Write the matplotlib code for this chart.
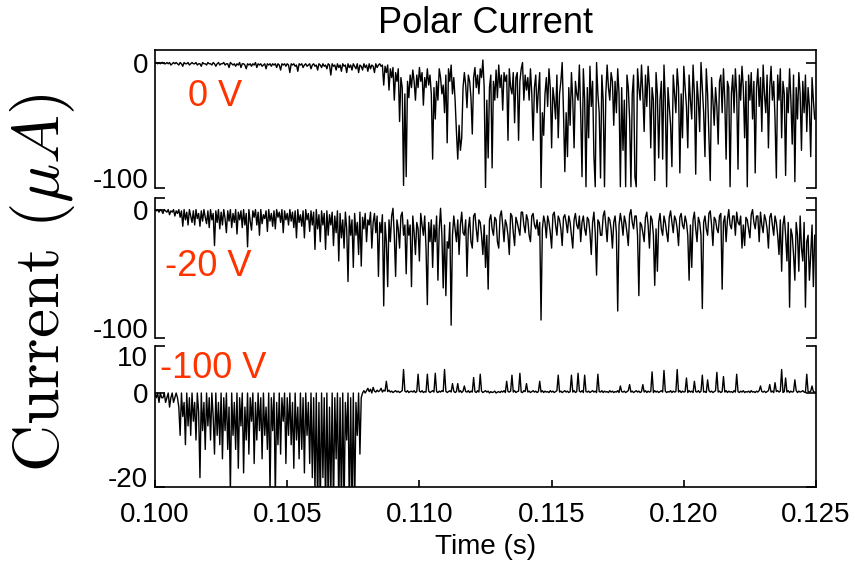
import numpy as np
from matplotlib import pyplot as plt

plt.rcParams['font.family'] = ['Liberation Sans', 'DejaVu Sans']
plt.rcParams['mathtext.fontset'] = 'cm'

# time axis: one sample every 0.05 ms from 0.100 s
t0 = 0.100
dt = 0.00005

# 0 V bias (uA)
cur_0v = [
    0, 0, -1, 0, -1, 0, 0, -1, -1, 0,
    -1, 0, -2, -1, 0, -1, 0, -1, -2, 0,
    -1, -3, 0, -1, -1, 0, -2, -1, 0, -1,
    -1, 0, -2, -1, -1, -3, 0, -1, -1, -2,
    0, -1, -1, -2, 0, -1, -3, -1, 0, -2,
    -1, -1, 0, -2, -1, -1, -4, 0, -1, -2,
    -1, -3, -1, -2, 0, -4, -1, -1, -2, -5,
    -1, -2, -1, -3, -1, -2, 0, -4, -1, -2,
    -1, -3, -2, -1, -5, -1, -2, -1, -3, -1,
    -2, -1, -4, -1, -2, -6, -1, -2, -1, -3,
    -1, -2, -8, -1, -2, -1, -3, -2, -7, -1,
    -2, -1, -4, -2, -1, -3, -2, -1, -5, -2,
    -1, -3, -2, -6, -1, -2, -4, -1, -3, -2,
    -5, -1, -2, -10, -1, -3, -2, -6, -1, -4,
    -2, -7, -1, -3, -2, -8, -1, -4, -2, -6,
    -1, -3, -5, -1, -8, -2, -3, -6, -1, -4,
    -2, -7, -1, -5, -2, -3, -8, -1, -4, -2,
    -1, -3, -2, -18, -3, -8, -2, -22, -5, -12,
    -4, -30, -8, -15, -5, -47, -12, -20, -98, -25,
    -91, -15, -28, -10, -20, -6, -15, -30, -10, -20,
    -4, -15, -8, -34, -12, -20, -5, -18, -10, -25,
    -77, -20, -45, -15, -30, -5, -12, -25, -18, -40,
    -10, -64, -5, -15, -2, -25, -12, -30, -55, -77,
    -50, -70, -60, -20, -8, -18, -36, -10, -15, -28,
    -57, -12, -4, -20, -10, -25, -5, -12, 2, -20,
    -100, -30, -76, -20, -10, -84, -15, -30, -6, -28,
    -2, -20, -10, -38, -8, -15, -10, -62, -5, -20,
    -25, -8, -48, -12, -8, -62, -15, -5, 0, -30,
    -10, -22, -12, -30, -5, -25, -62, -20, -10, -40,
    -22, -8, -100, -40, -58, -25, -12, -35, -5, -20,
    -68, -20, -30, -45, -10, -60, -25, -15, 0, -40,
    -87, -40, -75, -20, -50, -8, -30, -68, -15, -25,
    -30, -2, -40, -91, -5, -30, -99, -20, -60, -3,
    -35, -15, -75, -99, 0, -25, -40, -92, -10, -30,
    -99, -25, -2, -20, -30, -8, -15, -50, -15, -40,
    -5, -25, -99, -20, -70, -30, -99, -10, -20, -45,
    -99, -25, -10, -91, -99, -5, -20, -30, -2, -25,
    -55, -10, -35, -3, -20, -68, -20, -30, -94, -8,
    -25, -76, -30, -15, -77, -2, -30, -99, -20, -35,
    -50, -83, -10, -25, -40, -5, -20, -88, -25, -60,
    -3, -20, -35, -68, -10, -30, -45, -2, -25, -89,
    -15, -30, -55, 0, -20, -40, -75, -5, -25, -60,
    -94, -12, -30, -50, -20, -35, -65, -15, -10, -40,
    -5, -30, -77, -15, -20, -99, -25, -10, -40, -5,
    -25, -85, -10, -30, -3, -20, -60, -15, -99, -10,
    -30, -8, -45, -15, -88, -20, -5, -35, -12, -55,
    -2, -25, -40, -10, -68, -20, -3, -30, -15, -45,
    -92, -10, -30, -5, -60, -15, -25, -90, -20, -40,
    -5, -30, -65, -10, -95, -20, -45, -8, -25, -70,
    -15, -40, -10, -55, -20, -35, -75, -12, -30, -45,
]

# -20 V bias (uA)
cur_20v = [
    0, -1, 0, -2, 0, -1, -3, 0, -1, -2,
    0, -4, -1, -2, 0, -5, -1, -3, 0, -6,
    -1, -13, 0, -8, -2, -12, 0, -5, -10, -1,
    -12, 0, -7, -3, -13, -1, -9, 0, -6, -11,
    -1, -14, 0, -8, -3, -28, -1, -10, 0, -15,
    -2, -12, 0, -7, -18, -1, -9, 0, -14, -3,
    -10, 0, -19, -2, -8, -1, -14, 0, -12, -3,
    -29, 0, -9, -16, -1, -6, 0, -12, -2, -20,
    0, -11, -4, -7, -1, -17, 0, -9, -3, -13,
    -1, -15, 0, -6, -2, -10, 0, -18, -1, -8,
    -3, -12, 0, -9, -2, -14, -1, -22, 0, -10,
    -4, -13, -1, -22, 0, -8, -3, -17, -1, -12,
    -2, -31, 0, -15, -4, -25, -1, -12, -3, -31,
    -1, -20, -4, -12, -2, -28, -5, -18, -1, -40,
    -3, -22, -8, -30, -2, -15, -56, -5, -20, -8,
    -45, -3, -20, -10, -35, -2, -44, -6, -15, -3,
    -25, -8, -12, -2, -30, -10, -3, -18, -5, -52,
    -10, -18, -4, -75, -10, -25, -60, -8, -25, -5,
    1, -20, -52, -8, -15, -30, -5, -2, -20, -12,
    -50, -8, -20, -12, -60, -5, -18, -35, -10, -15,
    -40, -3, -12, -20, -5, -30, -74, -10, -25, -8,
    -45, -12, -25, -5, -55, -15, 1, -20, -61, -12,
    -67, -25, -30, -10, -90, -20, -5, -15, -25, -8,
    -35, -12, -2, -18, -20, -8, -52, -15, -6, -25,
    -30, -5, -3, -15, -25, -8, -10, -20, -35, -12,
    -45, -20, -62, -8, -4, -15, -20, -6, -8, -25,
    -30, -5, -1, -12, -25, -8, -12, -20, -35, -3,
    -5, -18, -28, -6, -10, -15, -20, -2, -2, -12,
    -18, -4, -8, -20, -25, -5, -3, -12, -15, -8,
    -20, -10, -86, -15, -5, -10, -22, -5, -10, -18,
    -30, -4, -2, -12, -20, -5, -8, -15, -28, -6,
    -4, -10, -18, -5, -10, -20, -30, -8, -3, -12,
    -15, -5, -25, -10, -5, -15, -20, -6, -8, -18,
    -35, -10, -2, -18, -51, -8, -10, -20, -20, -5,
    -1, -12, -25, -6, -8, -15, -30, -10, -5, -18,
    -79, -12, -3, -10, -20, -5, -10, -18, -28, -4,
    0, -10, -15, -5, -5, -20, -67, -10, -12, -18,
    -25, -6, -2, -12, -30, -5, -8, -20, -59, -15,
    -48, -10, -3, -15, -20, -5, -10, -18, -25, -6,
    -1, -10, -18, -5, -8, -15, -28, -6, -3, -12,
    -15, -5, -10, -20, -55, -12, -45, -8, -2, -15,
    -25, -6, -10, -20, -77, -10, -5, -15, -20, -3,
    -1, -12, -28, -6, -8, -15, -18, -5, -3, -62,
    -10, -5, -25, -8, 0, -12, -15, -5, -5, -20,
    -2, -10, -12, -5, -30, -12, -28, -6, -8, -15,
    -22, -4, 0, -10, -15, -5, -5, -25, -2, -12,
    -18, -4, -8, -15, -30, -6, -3, -12, -20, -5,
    -10, -20, -35, -8, -48, -12, -5, -20, -40, -10,
    -76, -15, -20, -35, -55, -10, -20, -48, -5, -30,
    -40, -10, -76, -25, -20, -55, -35, -12, -60, -20,
]

# -100 V bias (uA), values below -20 run off the panel
cur_100v = [
    0, -1, 0, -2, 0, -1, -1, 0, -2, -1,
    0, -3, -1, 0, -2, -1, 0, -1, -3, -9,
    0, -5, -2, -11, 0, -7, -1, -9, 0, -6,
    -2, -10, 0, -4, -18, 0, -8, -2, -12, 0,
    -7, -1, -10, 0, -5, -13, 0, -9, -2, -11,
    0, -14, -1, -8, 0, -12, -3, -21, 0, -9,
    -2, -12, 0, -16, -1, -7, 0, -17, -3, -10,
    0, -13, -1, -6, 0, -15, -2, -10, 0, -8,
    -1, -14, 0, -9, -3, -12, 0, -21, -1, -8,
    0, -22, -2, -11, 0, -13, -1, -6, 0, -15,
    -1, -9, 0, -11, -2, -16, 0, -10, -3, -14,
    0, -12, -1, -17, 0, -9, -2, -15, 0, -18,
    -1, -21, 0, -25, -2, -25, 0, -18, -1, -25,
    0, -25, -3, -22, 0, -25, -1, -14, 0, -25,
    -1, -25, 0, -25, -2, -10, 0, -25, -1, -25,
    0, -25, -2, -9, 0, -13, -1, 0, 0.5, 0,
    0.5, 1, 0.3, 0.8, 0, 1.2, 0.4, 0.2, 0.6, 0.3,
    0.5, 1, 0.2, 0.6, 0.4, 2.5, 0.3, 0.6, 0.2, 0.4,
    0.1, 0.3, 0.5, 0.2, 0.4, 0.1, 0.3, 0.5, 5, 0.4,
    0.2, 0.5, 0.1, 0.3, 0.4, 0.2, 0.5, 0.1, 0.3, 4,
    0.4, 0.2, 0.5, 0.1, 0.3, 0.2, 4, 0.4, 0.1, 0.3,
    0.5, 0.2, 4.2, 0.3, 0.1, 0.4, 0.2, 0.5, 0.3, 5,
    0.4, 0.1, 0.3, 0.5, 0.2, 2, 0.4, 0.1, 0.3, 2,
    0.2, 0.5, 0.1, 0.4, 1.5, 0.3, 0.2, 0.5, 0.1, 0.4,
    0.2, 3.3, 0.3, 0.1, 0.5, 0.2, 4, 0.4, 0.1, 0.3,
    0.5, 0.2, 0.4, 0, 0.3, 0.1, 0.2, 0.4, 0, 0.2,
    0.3, 0.1, 0.4, 0.2, 0.5, 0.1, 2.5, 0.3, 0.2, 0.4,
    3.8, 0.2, 0.5, 0.1, 0.3, 0.4, 4.2, 0.2, 0.1, 0.5,
    0.3, 2, 0.2, 0.4, 0.1, 0.3, 0.5, 0.2, 0.4, 0.1,
    0.3, 2.5, 0.2, 0.5, 0.1, 0.4, 0.2, 0.3, 0.1, 0.5,
    0.2, 0.4, 0.1, 0.3, 0.5, 3.8, 0.2, 0.4, 0.1, 0.3,
    0.5, 0.2, 0.4, 0.1, 0.3, 3.8, 0.2, 0.5, 0.1, 0.3,
    4.2, 0.4, 0.2, 0.5, 0.1, 3.8, 0.3, 0.2, 0.4, 0.1,
    0.3, 0.5, 0.2, 0.4, 0.1, 4, 0.3, 0.2, 0.5, 0.1,
    0.4, 0.2, 0.3, 0.1, 0.5, 0.2, 0.4, 0.1, 0.3, 0.2,
    0.5, 0.1, 1.5, 0.3, 0.2, 0.4, 0.1, 0.3, 0.5, 1.8,
    0.2, 0.4, 0.1, 0.3, 0.5, 0.2, 0.4, 0.1, 0.3, 1.8,
    0.2, 0.5, 0.1, 0.4, 0.2, 0.3, 4.5, 0.1, 0.5, 0.2,
    0.4, 0.1, 0.3, 0.5, 0.2, 4.8, 0.4, 0.1, 0.3, 0.2,
    0.5, 0.1, 0.4, 0.2, 0.3, 5, 0.2, 0.5, 0.1, 0.4,
    0.2, 0.3, 3.2, 0.1, 0.5, 0.2, 0.4, 0.1, 2.5, 0.3,
    0.2, 0.5, 0.1, 0.4, 3.8, 0.2, 0.3, 0.1, 2.8, 0.5,
    0.2, 0.4, 0.1, 0.3, 0.5, 4.4, 0.2, 0.4, 0.1, 0.3,
    3.5, 0.2, 0.5, 0.1, 0.4, 0.2, 0.3, 0.1, 0.5, 0.2,
    4, 0.3, 0.1, 0.4, 0.2, 0.5, 0.1, 0.3, 0.2, 0.4,
    0.1, 0.5, 0.2, 0.3, 0.1, 0.4, 0.2, 0.5, 1.5, 0.3,
    0.2, 0.4, 0.1, 0.3, 0.5, 1.8, 0.2, 0.4, 0.1, 2.2,
    0.3, 0.5, 0.2, 0.4, 5, 0.1, 0.3, 3.2, 0.2, 0.5,
    0.1, 0.4, 0.2, 0.3, 2.8, 0.5, 0.1, 0.4, 0.2, 0.3,
    0.5, 0.2, 0.1, 4, 0.3, 0.2, 0.4, 1.5, 0.3, 0.2,
]

labels = ["0 V", "-20 V", "-100 V"]
ylims = [(-100, 10), (-100, 9), (-20, 10)]
yticks = [[-100, 0], [-100, 0, 9], [-20, 0, 10]]
yticklabels = [["-100", "0"], ["-100", "0", ""], ["-20", "0", "10"]]
xticks = [0.100, 0.105, 0.110, 0.115, 0.120, 0.125]
label_pos = [(0.10125, -27), (0.10038, -44), (0.10019, 5.3)]

red = "#ff3300"
fig = plt.figure(figsize=(8.55, 5.64), dpi=100)

# panel boxes in figure fractions
boxes = [
    [0.1813, 0.6667, 0.7731, 0.2447],
    [0.1813, 0.4007, 0.7731, 0.2482],
    [0.1813, 0.1365, 0.7731, 0.2500],
]

for k, cur in enumerate([cur_0v, cur_20v, cur_100v]):
    ax = fig.add_axes(boxes[k])
    t = t0 + dt * np.arange(len(cur))
    ax.plot(t, cur, color="black", lw=1.0)
    ax.set_xlim(0.100, 0.125)
    ax.set_ylim(ylims[k])
    ax.set_yticks(yticks[k])
    ax.set_yticklabels(yticklabels[k])
    ax.tick_params(axis="y", direction="in", length=7, width=1.2,
                   left=True, right=True, labelsize=20, pad=5)
    for s in ax.spines.values():
        s.set_linewidth(1.2)
    ax.spines["top"].set_visible(k == 0)
    ax.spines["bottom"].set_visible(k == 2)

    # keep the end labels inside the panel like the original
    tl = ax.get_yticklabels()
    tl[0].set_va("baseline")
    if k == 2:
        tl[-1].set_va("top")

    if k == 2:
        ax.set_xticks(xticks)
        ax.set_xticklabels(["%.3f" % x for x in xticks])
        ax.tick_params(axis="x", direction="in", length=5, width=1.2,
                       labelsize=20, pad=11)
        ax.set_xlabel("Time (s)", fontsize=20, labelpad=4)
    else:
        ax.set_xticks([])

    ax.text(label_pos[k][0], label_pos[k][1], labels[k], color=red,
            fontsize=26, ha="left", va="center")

fig.text(0.5682, 0.959, "Polar Current", fontsize=26, ha="center", va="center")
fig.text(0.05, 0.498, r"$\mathrm{Current}\ (\mu A)$", fontsize=47,
         rotation=90, ha="center", va="center")

plt.savefig("out.png", dpi=100)
